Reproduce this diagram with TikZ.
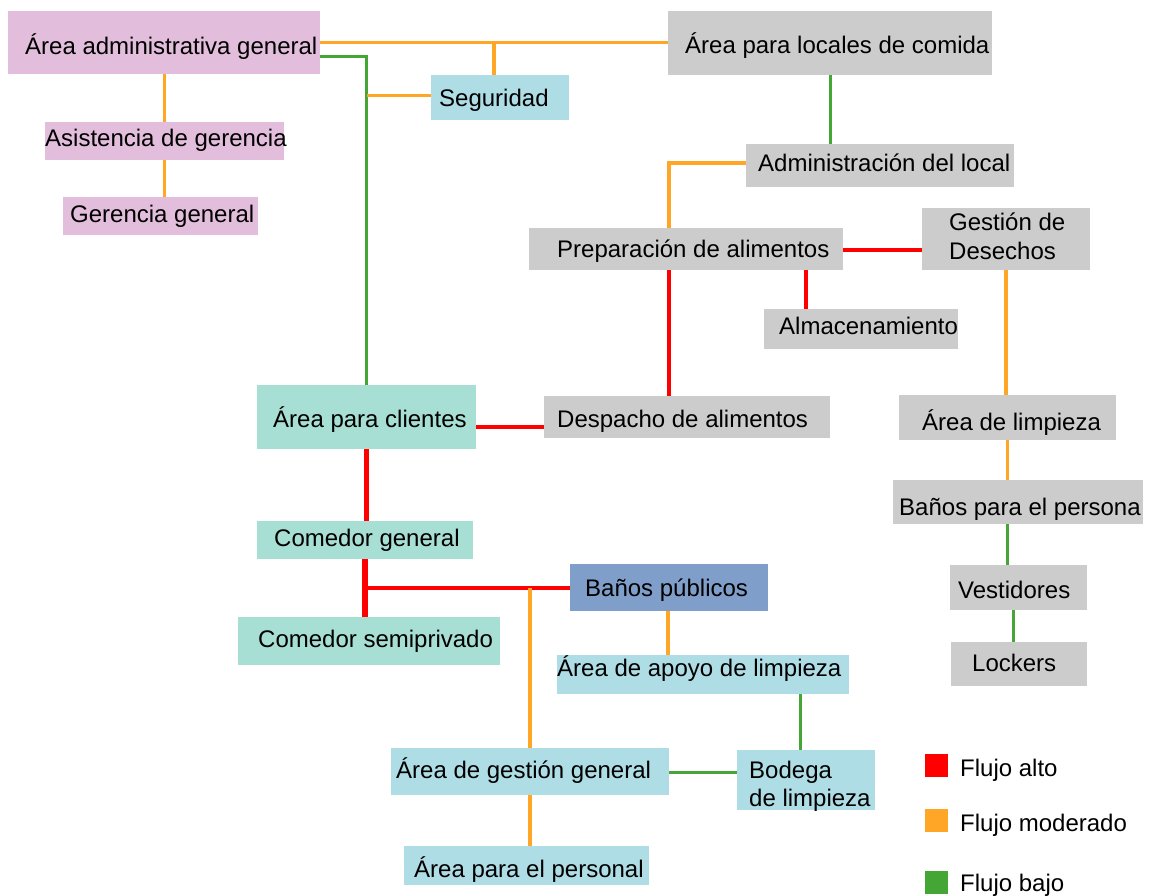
\documentclass[tikz,border=0pt]{standalone}
\usepackage{fontspec}
\setmainfont{Liberation Sans}
\definecolor{cpink}{HTML}{E3BEDC}
\definecolor{cblue}{HTML}{AFDDE5}
\definecolor{cgray}{HTML}{CCCCCC}
\definecolor{cteal}{HTML}{A8DFD4}
\definecolor{cdark}{HTML}{7F9FCA}
\definecolor{cred}{HTML}{FF0000}
\definecolor{corange}{HTML}{FFA626}
\definecolor{cgreen}{HTML}{44A634}
\tikzset{
  box/.style={draw=none, inner sep=0pt, anchor=north west},
  lbl/.style={inner sep=0pt, anchor=base west, font=\fontsize{24}{28.6}\selectfont, text=black},
  high/.style={draw=cred, line width=4pt},
  highthick/.style={draw=cred, line width=5.5pt},
  mod/.style={draw=corange, line width=3.5pt},
  low/.style={draw=cgreen, line width=3.3pt},
  legsq/.style={inner sep=0pt, minimum width=23pt, minimum height=23pt, anchor=north west},
}
\begin{document}
\begin{tikzpicture}[x=1pt, y=-1pt]
\useasboundingbox (0,0) rectangle (1150,895);
% boxes
\node[box, fill=cpink, minimum width=312pt, minimum height=63pt] (adm) at (8,11) {};
\node[box, fill=cpink, minimum width=239pt, minimum height=38pt] (asi) at (45,122) {};
\node[box, fill=cpink, minimum width=195pt, minimum height=38pt] (ger) at (63,197) {};
\node[box, fill=cblue, minimum width=138pt, minimum height=45pt] (seg) at (431,75) {};
\node[box, fill=cgray, minimum width=324pt, minimum height=64pt] (loc) at (668,11) {};
\node[box, fill=cgray, minimum width=268pt, minimum height=43pt] (adl) at (746,144) {};
\node[box, fill=cgray, minimum width=314pt, minimum height=42pt] (prep) at (529,228) {};
\node[box, fill=cgray, minimum width=168pt, minimum height=62pt] (ges) at (922,208) {};
\node[box, fill=cgray, minimum width=194pt, minimum height=40pt] (alm) at (764,309) {};
\node[box, fill=cgray, minimum width=286pt, minimum height=42pt] (desp) at (544,396) {};
\node[box, fill=cteal, minimum width=219pt, minimum height=64pt] (cli) at (257,385) {};
\node[box, fill=cteal, minimum width=216pt, minimum height=38pt] (cg) at (257,521) {};
\node[box, fill=cteal, minimum width=262pt, minimum height=48pt] (cs) at (238,617) {};
\node[box, fill=cdark, minimum width=198pt, minimum height=47pt] (bp) at (570,564) {};
\node[box, fill=cblue, minimum width=292pt, minimum height=39pt] (apo) at (557,655) {};
\node[box, fill=cblue, minimum width=278pt, minimum height=47pt] (ag) at (391,748) {};
\node[box, fill=cblue, minimum width=138pt, minimum height=60pt] (bod) at (737,750) {};
\node[box, fill=cblue, minimum width=245pt, minimum height=39pt] (per) at (404,846) {};
\node[box, fill=cgray, minimum width=217pt, minimum height=45pt] (lim) at (899,395) {};
\node[box, fill=cgray, minimum width=250pt, minimum height=44pt] (bper) at (893,480) {};
\node[box, fill=cgray, minimum width=137pt, minimum height=45pt] (ves) at (950,565) {};
\node[box, fill=cgray, minimum width=136pt, minimum height=44pt] (lock) at (951,642) {};
% texts
\node[lbl] (adm-t) at (25,54) {Área administrativa general};
\node[lbl] (asi-t) at (45,146.7) {Asistencia de gerencia};
\node[lbl] (ger-t) at (70,222.7) {Gerencia general};
\node[lbl] (seg-t) at (439,106.7) {Seguridad};
\node[lbl] (loc-t) at (685,53.3) {Área para locales de comida};
\node[lbl] (adl-t) at (758,171.7) {Administración del local};
\node[lbl] (prep-t) at (557,257.7) {Preparación de alimentos};
\node[lbl, align=left] (ges-t) at (949,259.3) {Gestión de\\Desechos};
\node[lbl] (alm-t) at (779,334.3) {Almacenamiento};
\node[lbl] (desp-t) at (557,427.3) {Despacho de alimentos};
\node[lbl] (cli-t) at (273,427.3) {Área para clientes};
\node[lbl] (cg-t) at (274,546.7) {Comedor general};
\node[lbl] (cs-t) at (258,647) {Comedor semiprivado};
\node[lbl] (bp-t) at (585,596.7) {Baños públicos};
\node[lbl] (apo-t) at (557,676.7) {Área de apoyo de limpieza};
\node[lbl] (ag-t) at (396,778.3) {Área de gestión general};
\node[lbl, align=left] (bod-t) at (749,806.7) {Bodega\\de limpieza};
\node[lbl] (per-t) at (414,877.7) {Área para el personal};
\node[lbl] (lim-t) at (922,430) {Área de limpieza};
\node[lbl] (bper-t) at (899,515) {Baños para el persona};
\node[lbl] (ves-t) at (958,598.3) {Vestidores};
\node[lbl] (lock-t) at (972,671) {Lockers};
% connectors
\draw[mod] (adm.east) -- (adm.east -| loc.west);
\draw[mod] ([xshift=-6pt]seg.north) -- ([xshift=-6pt]seg.north |- adm.east);
\draw[low] ([yshift=-14pt]adm.east) -| (cli.north);
\draw[mod] ([yshift=2pt]seg.west) -- ([yshift=2pt]seg.west -| cli.north);
\draw[mod] (asi.north |- adm.south) -- (asi.north);
\draw[mod] (asi.south) -- (asi.south |- ger.north);
\draw[low] (loc.south) -- (loc.south |- adl.north);
\draw[mod] ([yshift=2.5pt]adl.west) -| ([xshift=-17pt]prep.north);
\draw[high] ([yshift=-1pt]prep.east) -- ([yshift=-1pt]prep.east -| ges.west);
\draw[high] ([xshift=-55pt]alm.north) -- ([xshift=-55pt]alm.north |- prep.south);
\draw[high] ([xshift=-18pt]desp.north) -- ([xshift=-18pt]desp.north |- prep.south);
\draw[mod] (ges.south) -- (ges.south |- lim.north);
\draw[mod] (lim.south) -- (lim.south |- bper.north);
\draw[low] ([xshift=-11pt]ves.north) -- ([xshift=-11pt]ves.north |- bper.south);
\draw[low] ([xshift=-5pt]ves.south) -- ([xshift=-5pt]ves.south |- lock.north);
\draw[high] ([yshift=-10pt]cli.east) -- ([yshift=-10pt]cli.east -| desp.west);
\draw[highthick] (cli.south) -- (cli.south |- cg.north);
\draw[highthick] (cg.south) -- (cg.south |- cs.north);
\draw[high] (bp.west) -- (bp.west -| cg.south);
\draw[mod] (ag.north) -- (ag.north |- bp.west);
\draw[mod] ([xshift=-1pt]bp.south) -- ([xshift=-1pt]bp.south |- apo.north);
\draw[low] ([xshift=-6pt]bod.north) -- ([xshift=-6pt]bod.north |- apo.south);
\draw[low] ([yshift=-0.5pt]ag.east) -- ([yshift=-0.5pt]ag.east -| bod.west);
\draw[mod] (ag.south) -- (ag.south |- per.north);
% legend
\node[legsq, fill=cred] (lg1) at (925,754) {};
\node[legsq, fill=corange] (lg2) at (925,809) {};
\node[legsq, fill=cgreen] (lg3) at (925,871) {};
\node[lbl] (lg1-t) at (960,776) {Flujo alto};
\node[lbl] (lg2-t) at (960,831.7) {Flujo moderado};
\node[lbl] (lg3-t) at (960,891) {Flujo bajo};
\end{tikzpicture}
\end{document}
